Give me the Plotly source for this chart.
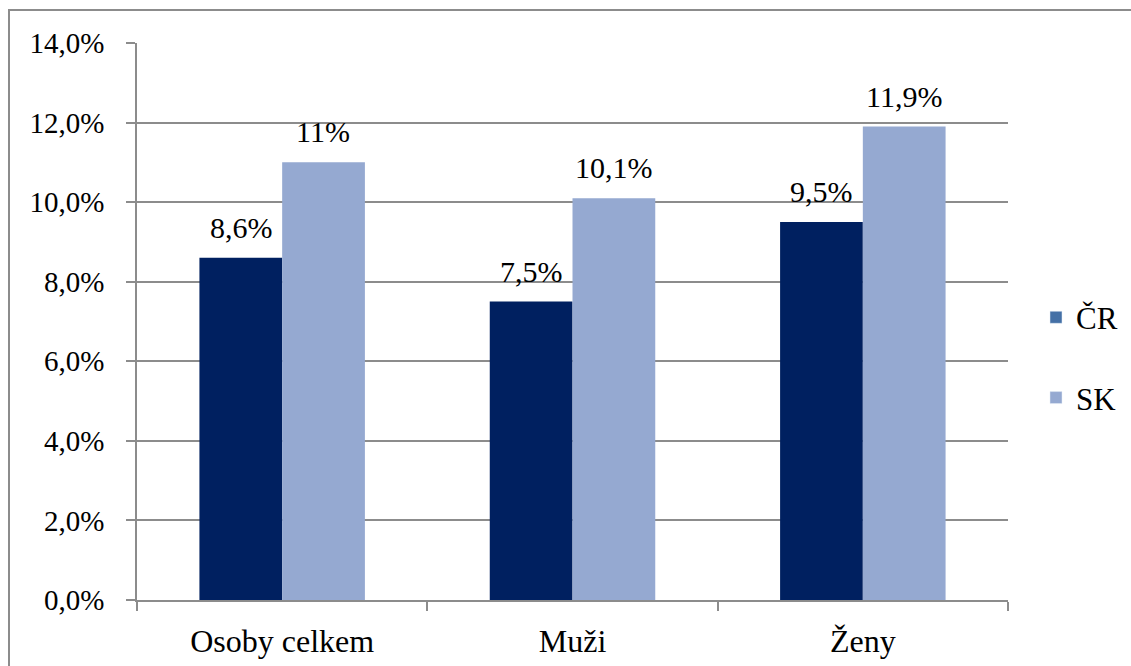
import plotly.graph_objects as go

categories = ["Osoby celkem", "Muži", "Ženy"]
cr_values = [0.086, 0.075, 0.095]
sk_values = [0.110, 0.101, 0.119]
cr_labels = ["8,6%", "7,5%", "9,5%"]
sk_labels = ["11%", "10,1%", "11,9%"]
series_names = ["ČR", "SK"]

CR_COLOR = "#002060"
SK_COLOR = "#95A9D1"
CR_LEGEND = "#4470A6"
FONT = "Liberation Serif, Times New Roman, serif"
GRID = "#8C8C8C"

fig = go.Figure()
fig.add_trace(go.Bar(x=categories, y=cr_values, marker_color=CR_COLOR, offsetgroup="cr",
                     marker_line_width=0, showlegend=False, name=series_names[0]))
fig.add_trace(go.Bar(x=categories, y=sk_values, marker_color=SK_COLOR, offsetgroup="sk",
                     marker_line_width=0, showlegend=False, name=series_names[1]))
# legend entries
fig.add_trace(go.Bar(x=[None], y=[None], marker_color=CR_LEGEND, name=series_names[0],
                     offsetgroup="cr", legendgroup="a"))
fig.add_trace(go.Bar(x=[None], y=[None], marker_color=SK_COLOR, name=series_names[1],
                     offsetgroup="sk", legendgroup="b"))

annotations = []
for cat, v, lab in zip(categories, cr_values, cr_labels):
    annotations.append(dict(x=cat, y=v, text=lab, showarrow=False, xshift=-41,
                            yanchor="bottom", yshift=12,
                            font=dict(family=FONT, size=30, color="#000000")))
for cat, v, lab in zip(categories, sk_values, sk_labels):
    annotations.append(dict(x=cat, y=v, text=lab, showarrow=False, xshift=41,
                            yanchor="bottom", yshift=12,
                            font=dict(family=FONT, size=30, color="#000000")))

fig.update_layout(
    width=1131, height=666,
    margin=dict(l=137, r=123, t=43, b=66, autoexpand=False),
    paper_bgcolor="white", plot_bgcolor="white",
    separators=", ",
    font=dict(family=FONT, size=31, color="#000000"),
    barmode="group", bargap=0.43, bargroupgap=0,
    annotations=annotations,
    showlegend=True,
    legend=dict(xref="container", yref="container", x=1036 / 1131, y=0.463,
                xanchor="left", yanchor="middle", tracegroupgap=37,
                traceorder="grouped", font=dict(family=FONT, size=31),
                itemwidth=30, bgcolor="rgba(0,0,0,0)"),
    shapes=[dict(type="rect", xref="paper", yref="paper",
                 x0=(9 - 137) / 871, x1=(1140 - 137) / 871,
                 y0=(666 - 700 - 66) / 557, y1=(666 - 10 - 66) / 557,
                 line=dict(color="#8C8C8C", width=2), fillcolor="rgba(0,0,0,0)",
                 layer="below")],
)

fig.update_yaxes(range=[0, 0.14], dtick=0.02, tickformat=".1%",
                 showgrid=True, gridcolor=GRID, gridwidth=1.5,
                 showline=True, linecolor=GRID, linewidth=1.5,
                 ticks="outside", ticklen=9, tickcolor=GRID, tickwidth=1.5,
                 ticklabelstandoff=16, zeroline=False, automargin=False,
                 tickfont=dict(family=FONT, size=29))
fig.update_xaxes(showline=True, linecolor=GRID, linewidth=1.5,
                 ticks="outside", tickson="boundaries", ticklen=9,
                 tickcolor=GRID, tickwidth=1.5, showgrid=False,
                 ticklabelstandoff=12, automargin=False,
                 tickfont=dict(family=FONT, size=32))

fig.write_html("out.html", config={"displayModeBar": False},
               post_script="document.body.style.margin='0';document.body.style.overflow='hidden';")
